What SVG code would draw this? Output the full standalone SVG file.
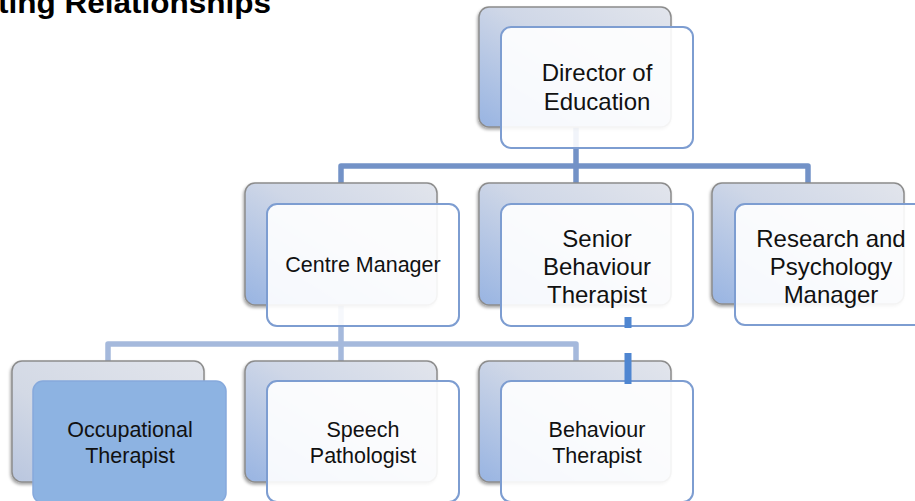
<svg xmlns="http://www.w3.org/2000/svg" width="915" height="501" viewBox="0 0 915 501">
  <defs>
    <linearGradient id="backGrad" x1="1" y1="0" x2="0" y2="1">
      <stop offset="0" stop-color="#e2e5ec"/>
      <stop offset="0.45" stop-color="#cfd7e7"/>
      <stop offset="1" stop-color="#98b4e2"/>
    </linearGradient>
    <linearGradient id="backGradLight" x1="1" y1="0" x2="0" y2="1">
      <stop offset="0" stop-color="#e2e5ec"/>
      <stop offset="0.6" stop-color="#d3d9e5"/>
      <stop offset="1" stop-color="#b9c6df"/>
    </linearGradient>
    <filter id="shadow" x="-10%" y="-10%" width="120%" height="125%">
      <feDropShadow dx="-1" dy="2" stdDeviation="1.8" flood-color="#000" flood-opacity="0.35"/>
    </filter>
  </defs>
  <style>
    .back { fill: url(#backGrad); stroke: #8c8c8c; stroke-width: 1.5; filter: url(#shadow); }
    .backL { fill: url(#backGradLight); stroke: #8c8c8c; stroke-width: 1.5; filter: url(#shadow); }
    .front { fill: #ffffff; fill-opacity: 0.9; stroke: #7d9dd1; stroke-width: 2; }
    .frontBlue { fill: #8db3e2; stroke: #86a9dc; stroke-width: 1.5; }
    .lbl { font-family: "Liberation Sans", Arial, sans-serif; font-size: 24px; fill: #111; text-anchor: middle; }
    .lbl2 { font-family: "Liberation Sans", Arial, sans-serif; font-size: 21.5px; fill: #111; text-anchor: middle; }
    .l1 { fill: none; stroke: #7392c7; stroke-width: 5.5; stroke-linejoin: round; }
    .l3 { fill: none; stroke: #a5b9dc; stroke-width: 5.5; stroke-linejoin: round; }
    .title { font-family: "Liberation Sans", Arial, sans-serif; font-size: 29px; font-weight: bold; fill: #000; }
  </style>

  <text class="title" x="-2" y="13" textLength="273" lengthAdjust="spacingAndGlyphs">ting Relationships</text>

  <g id="connectors">
    <path class="l1" d="M576,120 V166"/>
    <path class="l1" d="M341,184 V166 H808 V184"/>
    <path class="l1" d="M576,166 V184"/>
    <path class="l3" d="M341,300 V362"/>
    <path class="l3" d="M108,362 V344 H576 V362"/>
  </g>

  <g id="director">
    <rect class="back" x="479" y="7" width="192" height="120" rx="10"/>
    <rect class="front" x="501" y="27" width="192" height="121" rx="10"/>
    <text class="lbl" x="597" y="81">Director of</text>
    <text class="lbl" x="597" y="110">Education</text>
  </g>

  <g id="centre-manager">
    <rect class="back" x="245" y="183" width="192" height="122" rx="10"/>
    <rect class="front" x="267" y="204" width="192" height="122" rx="10"/>
    <text class="lbl2" x="363" y="272">Centre Manager</text>
  </g>

  <g id="senior-behaviour-therapist">
    <rect class="back" x="479" y="183" width="192" height="122" rx="10"/>
    <rect class="front" x="501" y="204" width="192" height="122" rx="10"/>
    <text class="lbl" x="597" y="247">Senior</text>
    <text class="lbl" x="597" y="275">Behaviour</text>
    <text class="lbl" x="597" y="303">Therapist</text>
  </g>

  <g id="research-psychology-manager">
    <rect class="back" x="712" y="183" width="192" height="121" rx="10"/>
    <rect class="front" x="735" y="204" width="192" height="121" rx="10"/>
    <text class="lbl" x="831" y="247">Research and</text>
    <text class="lbl" x="831" y="275">Psychology</text>
    <text class="lbl" x="831" y="303">Manager</text>
  </g>

  <g id="occupational-therapist">
    <rect class="backL" x="12" y="361" width="192" height="121" rx="10"/>
    <rect class="frontBlue" x="33" y="381" width="193" height="122" rx="10"/>
    <text class="lbl2" x="130" y="437">Occupational</text>
    <text class="lbl2" x="130" y="463">Therapist</text>
  </g>

  <g id="speech-pathologist">
    <rect class="back" x="245" y="361" width="192" height="121" rx="10"/>
    <rect class="front" x="267" y="381" width="192" height="121" rx="10"/>
    <text class="lbl2" x="363" y="437">Speech</text>
    <text class="lbl2" x="363" y="463">Pathologist</text>
  </g>

  <g id="behaviour-therapist">
    <rect class="back" x="479" y="361" width="192" height="121" rx="10"/>
    <rect class="front" x="501" y="381" width="192" height="121" rx="10"/>
    <text class="lbl2" x="597" y="437">Behaviour</text>
    <text class="lbl2" x="597" y="463">Therapist</text>
  </g>

  <g id="connector-dotted">
    <path d="M628,317 V384" fill="none" stroke="#4f86d1" stroke-width="7" stroke-dasharray="11 25 31"/>
  </g>
</svg>
